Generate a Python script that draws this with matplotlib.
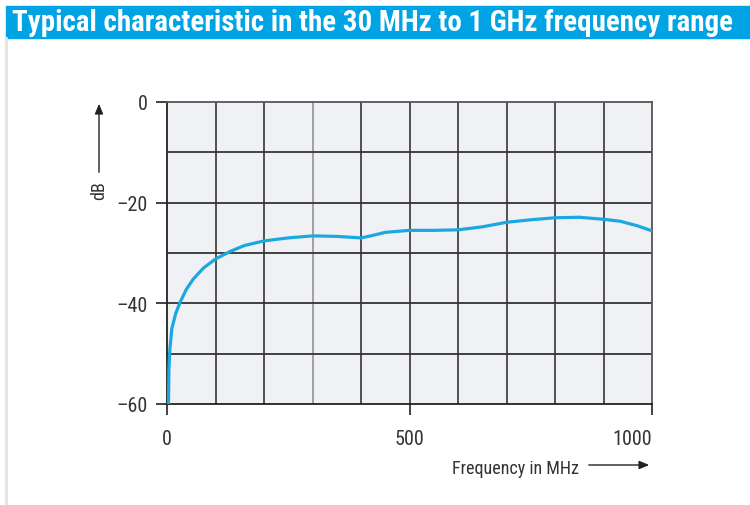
import numpy as np
import matplotlib
matplotlib.use("Agg")
import matplotlib.pyplot as plt
from matplotlib.patches import Rectangle, FancyArrowPatch

plt.rcParams['font.family'] = ['Liberation Sans Narrow', 'DejaVu Sans Condensed',
                               'Roboto Condensed', 'Roboto', 'DejaVu Sans']

# curve (MHz, dB)
freq = [3, 4, 6, 10, 18, 27, 40, 54, 75, 100, 130, 160, 200, 250, 300, 350,
        400, 420, 450, 500, 550, 600, 650, 700, 750, 800, 850, 900, 935, 970, 1000]
gain = [-60, -53, -49, -45, -42, -39.8, -37.2, -35.2, -33, -31.2, -29.7, -28.5,
        -27.6, -27.0, -26.6, -26.7, -27.0, -26.6, -25.9, -25.5, -25.5, -25.4,
        -24.8, -23.9, -23.4, -23.0, -22.9, -23.3, -23.7, -24.6, -25.6]

x_ticks = [0, 500, 1000]
y_ticks = [0, -20, -40, -60]
y_labels = ["0", "\u201320", "\u201340", "\u201360"]
title = "Typical characteristic in the 30 MHz to 1 GHz frequency range"

fig = plt.figure(figsize=(7.5, 5.06), dpi=100)

# title bar and left frame line
fig.patches.append(Rectangle((6 / 750, 1 - 39 / 506), 744 / 750, 32 / 506,
                             transform=fig.transFigure, color="#00a3e4", zorder=0))
fig.lines.append(plt.Line2D([6 / 750, 6 / 750], [0, 1 - 39 / 506],
                            transform=fig.transFigure, color="#e2e3e6", lw=2))
t = fig.text(12 / 750, 1 - 23 / 506, title, color="white", fontsize=17.5,
             fontweight="bold", va="center", ha="left")
# scale the title so it spans the bar like in the reference
r = fig.canvas.get_renderer()
w = t.get_window_extent(r).width
t.set_fontsize(17.5 * 719 / w)

ax = fig.add_axes([167 / 750, 1 - 405 / 506, 485 / 750, 302 / 506])
ax.set_facecolor("#f0f1f4")
ax.set_xlim(0, 1000)
ax.set_ylim(-60, 0)

for gx in range(100, 1000, 100):
    ax.axvline(gx, color="#9a9a9a" if gx == 300 else "#444444", lw=1.3, zorder=1)
for gy in range(-50, 0, 10):
    ax.axhline(gy, color="#333333", lw=1.3, zorder=1)

ax.plot(freq, gain, color="#1ba8e0", lw=2.3, zorder=3, solid_capstyle="round")

for side in ["top", "right"]:
    ax.spines[side].set_color("#555555")
    ax.spines[side].set_linewidth(1.3)
for side in ["left", "bottom"]:
    ax.spines[side].set_color("#222222")
    ax.spines[side].set_linewidth(1.3)

ax.set_xticks(x_ticks)
ax.set_yticks(y_ticks)
ax.set_yticklabels(y_labels)
ax.tick_params(axis="both", length=8, width=1.3, color="#333333",
               labelsize=14.5, labelcolor="#333333", pad=6)
ax.tick_params(axis="x", pad=10)
ax.get_xticklabels()[-1].set_ha("right")

# axis captions with arrows
fig.text(99 / 750, 1 - 191 / 506, "dB", rotation=90, fontsize=13,
         color="#333333", ha="center", va="center")
fig.add_artist(FancyArrowPatch(
    (99 / 750, 1 - 176 / 506), (99 / 750, 1 - 102 / 506),
    transform=fig.transFigure, arrowstyle="-|>,head_length=6,head_width=2.5",
    color="#222222", lw=1, mutation_scale=1))
fig.text(579 / 750, 1 - 469 / 506, "Frequency in MHz", fontsize=13,
         color="#333333", ha="right", va="center")
fig.add_artist(FancyArrowPatch(
    (586 / 750, 1 - 466 / 506), (652 / 750, 1 - 466 / 506),
    transform=fig.transFigure, arrowstyle="-|>,head_length=6,head_width=2.5",
    color="#222222", lw=1, mutation_scale=1))

fig.savefig("out.png", dpi=100, facecolor="white")
